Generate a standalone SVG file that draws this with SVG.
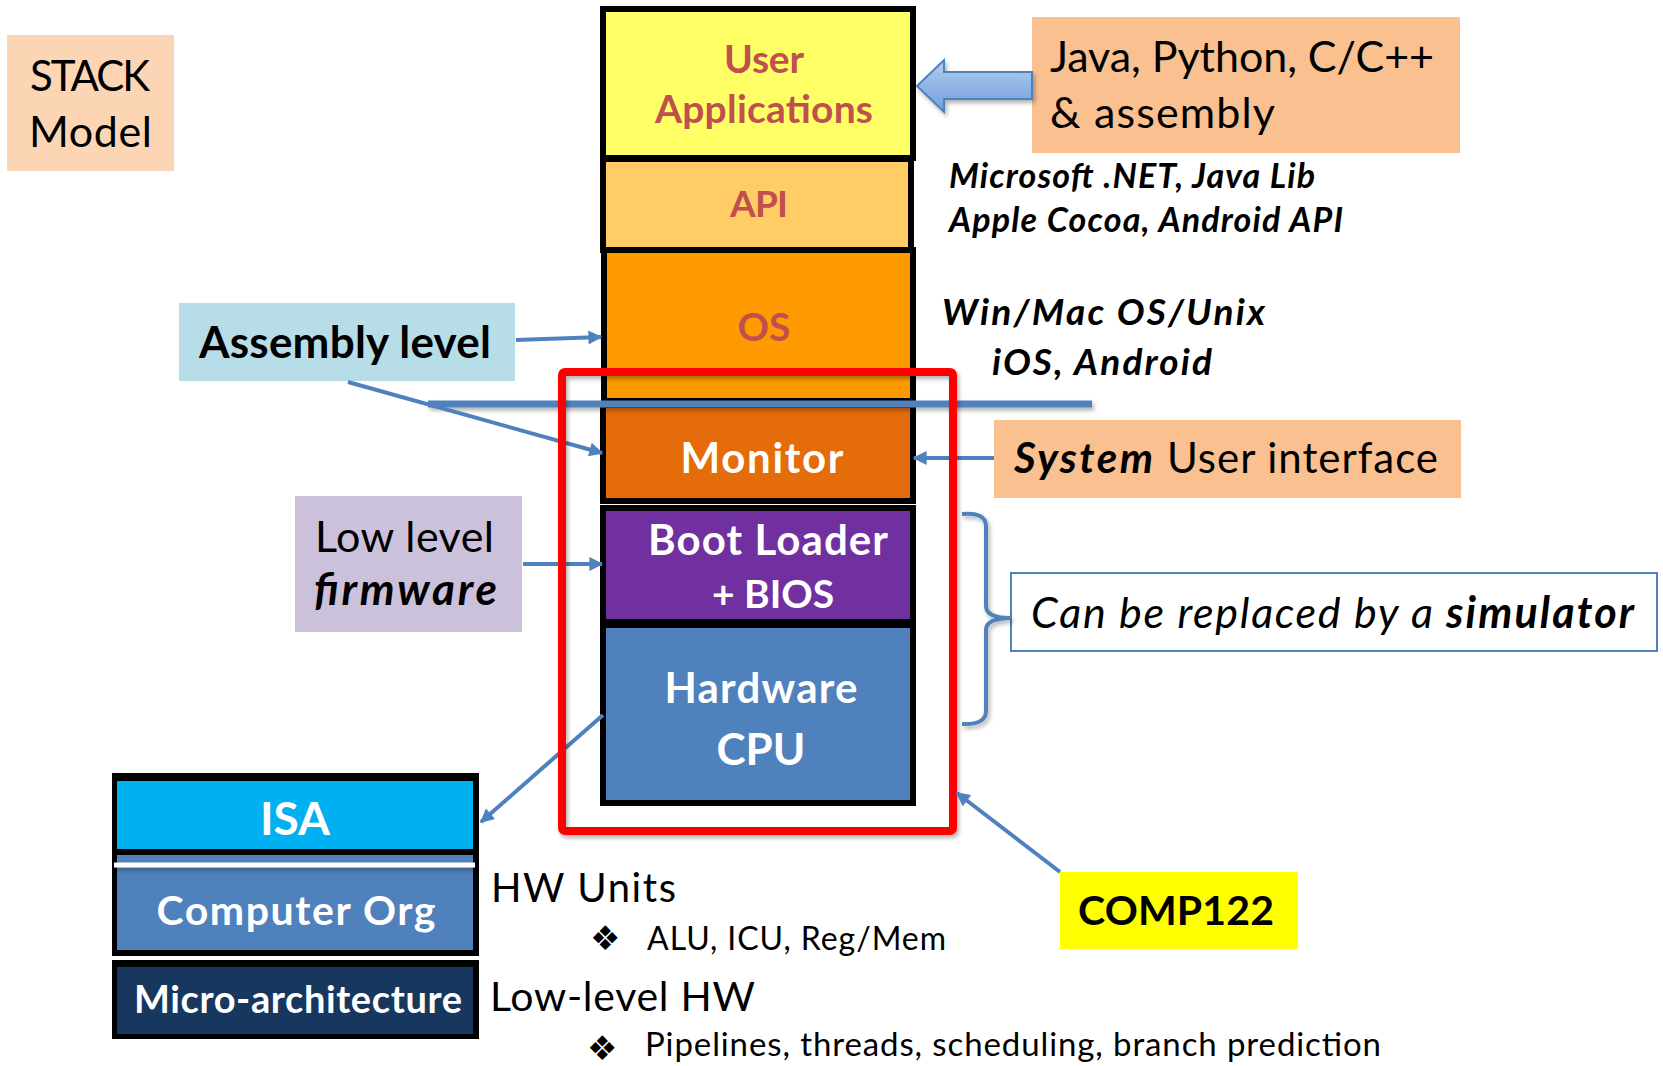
<svg xmlns="http://www.w3.org/2000/svg" width="1663" height="1066" viewBox="0 0 1663 1066">
  <defs>
    <style>
      text { font-family: Lato, "Open Sans", "Liberation Sans", sans-serif; }
      .reg { font-weight: normal; fill: #000; }
      .b { font-weight: bold; fill: #000; }
      .bi { font-weight: bold; font-style: italic; fill: #000; }
      .it { font-style: italic; fill: #000; }
      .red { fill: #C0504D; font-weight: bold; }
      .wh { fill: #FFFFFF; font-weight: bold; }
      .blk { stroke: #000; stroke-width: 6; }
      .conn { stroke: #4F81BD; stroke-width: 4; fill: none; }
      .bullet { font-family: "DejaVu Sans", sans-serif; fill: #000; }
    </style>
    <marker id="ah" viewBox="0 0 10 10" refX="9" refY="5" markerUnits="userSpaceOnUse" markerWidth="16" markerHeight="14" orient="auto">
      <path d="M0,0 L10,5 L0,10 Z" fill="#4F81BD"/>
    </marker>
    <linearGradient id="arrowFill" x1="0" y1="0" x2="0" y2="1">
      <stop offset="0" stop-color="#B3CDF2"/>
      <stop offset="1" stop-color="#6F9EDC"/>
    </linearGradient>
    <filter id="shadow" filterUnits="userSpaceOnUse" x="0" y="0" width="1663" height="1066">
      <feDropShadow dx="2" dy="3" stdDeviation="2" flood-color="#000" flood-opacity="0.3"/>
    </filter>
  </defs>

  <rect width="1663" height="1066" fill="#FFFFFF"/>

  <!-- title label -->
  <g id="stack-model">
    <rect x="7" y="35" width="167" height="136" fill="#FCD5B5"/>
    <text class="reg" x="30" y="91" font-size="42" textLength="120">STACK</text>
    <text class="reg" x="29" y="147" font-size="43" textLength="123">Model</text>
  </g>

  <!-- software / firmware / hardware stack -->
  <g id="user-applications">
    <rect class="blk" x="603" y="9" width="310" height="149" fill="#FFFF66"/>
    <text class="red" x="764" y="73" font-size="39" text-anchor="middle" textLength="80">User</text>
    <text class="red" x="764" y="123" font-size="39" text-anchor="middle" textLength="218">Applications</text>
  </g>
  <g id="api">
    <rect class="blk" x="603" y="159" width="308" height="91" fill="#FFCC66"/>
    <text class="red" x="759" y="217" font-size="37" text-anchor="middle" textLength="58">API</text>
  </g>
  <g id="os">
    <rect class="blk" x="604" y="250" width="309" height="151" fill="#FF9900"/>
    <text class="red" x="764" y="341" font-size="39" text-anchor="middle">OS</text>
  </g>
  <g id="monitor">
    <rect class="blk" x="603" y="405" width="310" height="96" fill="#E46C0A"/>
    <text class="wh" x="762" y="473" font-size="42" text-anchor="middle" textLength="163">Monitor</text>
  </g>
  <g id="boot-loader">
    <rect class="blk" x="603" y="508" width="310" height="114" fill="#7030A0"/>
    <text class="wh" x="768" y="555" font-size="42" text-anchor="middle" textLength="240">Boot Loader</text>
    <text class="wh" x="773" y="608" font-size="39" text-anchor="middle">+ BIOS</text>
  </g>
  <g id="hardware-cpu">
    <rect class="blk" x="603" y="625" width="310" height="178" fill="#4F81BD"/>
    <text class="wh" x="761" y="703" font-size="42" text-anchor="middle" textLength="193">Hardware</text>
    <text class="wh" x="761" y="765" font-size="44" text-anchor="middle" textLength="89">CPU</text>
  </g>

  <!-- side annotations -->
  <g id="languages">
    <rect x="1032" y="17" width="428" height="136" fill="#FAC090"/>
    <text class="reg" x="1050" y="72" font-size="43" textLength="384">Java, Python, C/C++</text>
    <text class="reg" x="1050" y="128" font-size="43" textLength="225">&amp; assembly</text>
  </g>
  <g id="api-examples">
    <text class="bi" x="949" y="188" font-size="34" textLength="366">Microsoft .NET, Java Lib</text>
    <text class="bi" x="949" y="232" font-size="34" textLength="394">Apple Cocoa, Android API</text>
  </g>
  <g id="os-examples">
    <text class="bi" x="942" y="325" font-size="37" textLength="323">Win/Mac OS/Unix</text>
    <text class="bi" x="992" y="375" font-size="37" textLength="220">iOS, Android</text>
  </g>
  <g id="assembly-level">
    <rect x="179" y="303" width="336" height="78" fill="#B7DDE8"/>
    <text class="b" x="199" y="358" font-size="44" textLength="292">Assembly level</text>
  </g>
  <g id="low-level-firmware">
    <rect x="295" y="496" width="227" height="136" fill="#CCC1DA"/>
    <text class="reg" x="315" y="552" font-size="43" textLength="179">Low level</text>
    <text class="bi" x="314" y="605" font-size="44" textLength="183">firmware</text>
  </g>
  <g id="system-ui">
    <rect x="994" y="420" width="467" height="78" fill="#FAC090"/>
    <text class="bi" x="1014" y="473" font-size="42" textLength="139">System</text>
    <text class="reg" x="1167" y="473" font-size="42" textLength="271">User interface</text>
  </g>
  <g id="simulator">
    <rect x="1011" y="573" width="646" height="78" fill="#FFFFFF" stroke="#4F81BD" stroke-width="2"/>
    <text class="it" x="1031" y="628" font-size="43" textLength="402">Can be replaced by a</text>
    <text class="bi" x="1446" y="628" font-size="43" textLength="188">simulator</text>
  </g>

  <!-- hardware detail -->
  <g id="isa-org">
    <rect x="112" y="773" width="367" height="183" fill="#000"/>
    <rect x="117" y="781" width="356" height="68" fill="#00B0F0"/>
    <rect x="117" y="855" width="356" height="95" fill="#4F81BD"/>
    <line x1="114" y1="865" x2="475" y2="865" stroke="#FFFFFF" stroke-width="5" filter="url(#shadow)"/>
    <text class="wh" x="295" y="835" font-size="46" text-anchor="middle">ISA</text>
    <text class="wh" x="296" y="925" font-size="41" text-anchor="middle" textLength="279">Computer Org</text>
  </g>
  <g id="micro-architecture">
    <rect x="112" y="960" width="367" height="79" fill="#000"/>
    <rect x="117" y="967" width="356" height="67" fill="#17375E"/>
    <text class="wh" x="298" y="1013" font-size="38" text-anchor="middle" textLength="328">Micro-architecture</text>
  </g>
  <g id="hw-notes">
    <text class="reg" x="491" y="902" font-size="40" textLength="185">HW Units</text>
    <text class="bullet" x="590" y="950" font-size="34">❖</text>
    <text class="reg" x="647" y="950" font-size="32" textLength="299">ALU, ICU, Reg/Mem</text>
    <text class="reg" x="490" y="1011" font-size="41" textLength="265">Low-level HW</text>
    <text class="bullet" x="587" y="1060" font-size="34">❖</text>
    <text class="reg" x="645" y="1056" font-size="33" textLength="736">Pipelines, threads, scheduling, branch prediction</text>
  </g>
  <g id="comp122">
    <rect x="1060" y="872" width="238" height="77" fill="#FFFF00"/>
    <text class="b" x="1176" y="925" font-size="41" text-anchor="middle" textLength="196">COMP122</text>
  </g>

  <!-- connectors -->
  <g id="connectors">
    <path d="M917,86 L944,60 L944,72 L1032,72 L1032,99 L944,99 L944,112 Z" fill="url(#arrowFill)" stroke="#4F81BD" stroke-width="2" filter="url(#shadow)"/>
    <line x1="428" y1="404" x2="1092" y2="404" stroke="#4F81BD" stroke-width="7" filter="url(#shadow)"/>
    <line class="conn" x1="516" y1="340" x2="601" y2="337" marker-end="url(#ah)"/>
    <line class="conn" x1="348" y1="382" x2="602" y2="453" marker-end="url(#ah)"/>
    <line class="conn" x1="523" y1="564" x2="602" y2="564" marker-end="url(#ah)"/>
    <line class="conn" x1="994" y1="458" x2="914" y2="458" marker-end="url(#ah)"/>
    <path class="conn" d="M962,514 Q986,512 986,526 L986,606 Q986,618 1011,618 Q986,618 986,630 L986,711 Q986,725 962,724" filter="url(#shadow)"/>
    <line class="conn" x1="603" y1="715" x2="481" y2="822" marker-end="url(#ah)"/>
    <rect x="562" y="372" width="391" height="459" rx="3" fill="none" stroke="#FF0000" stroke-width="8" filter="url(#shadow)"/>
    <line class="conn" x1="1060" y1="872" x2="957" y2="793" marker-end="url(#ah)"/>
  </g>
</svg>
